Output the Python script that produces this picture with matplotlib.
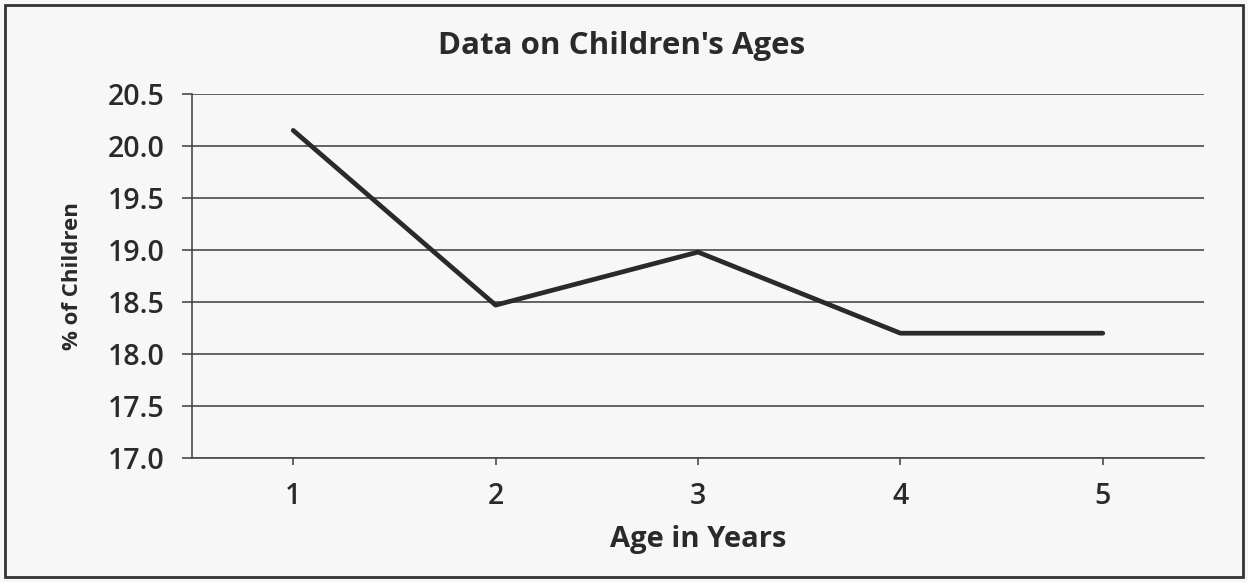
import numpy as np
import matplotlib
matplotlib.use('Agg')
from matplotlib import pyplot as plt
from matplotlib.patches import Rectangle

ages = [1, 2, 3, 4, 5]
pct_children = [20.15, 18.47, 18.98, 18.2, 18.2]
y_ticks = [17.0, 17.5, 18.0, 18.5, 19.0, 19.5, 20.0, 20.5]

plt.rcParams['font.family'] = ['Open Sans', 'DejaVu Sans']

W, H = 1248, 582
fig = plt.figure(figsize=(W/100, H/100), dpi=100, facecolor='#f7f7f7')
left, right, top, bottom = 192, 1204, 94, 458
ax = fig.add_axes([left/W, 1 - bottom/H, (right-left)/W, (bottom-top)/H])
ax.set_facecolor('#f7f7f7')

ax.plot(ages, pct_children, color='#2a2a2a', lw=3.4, solid_capstyle='round', zorder=3)

ax.set_xlim(0.5, 5.5)
ax.set_ylim(17.0, 20.5)
ax.set_xticks(ages)
ax.set_yticks(y_ticks)
ax.set_yticklabels(['%.1f' % v for v in y_ticks])
ax.yaxis.grid(True, color='#4a4a4a', lw=1.2)
ax.set_axisbelow(True)

for s in ['top', 'right']:
    ax.spines[s].set_visible(False)
for s in ['left', 'bottom']:
    ax.spines[s].set_color('#4a4a4a')
    ax.spines[s].set_linewidth(1.2)

ax.tick_params(axis='y', length=7, width=1.2, color='#4a4a4a', labelsize=20.5,
               labelcolor='#2a2a2a', pad=13)
ax.tick_params(axis='x', length=5, width=1.2, color='#4a4a4a', labelsize=20.5,
               labelcolor='#2a2a2a', pad=12)
for lab in ax.get_yticklabels() + ax.get_xticklabels():
    lab.set_fontweight('semibold')

fig.text(622/W, 1 - 46/H, "Data on Children's Ages", fontsize=22.5, fontweight='bold',
         color='#2a2a2a', ha='center', va='center')
ax.set_xlabel('Age in Years', fontsize=21, fontweight='bold', color='#2a2a2a', va='center')
ax.xaxis.set_label_coords(0.5, -(540-bottom)/(bottom-top))
ax.set_ylabel('% of Children', fontsize=16, fontweight='bold', color='#2a2a2a', va='center')
ax.yaxis.set_label_coords((72-left)/(right-left), 0.5)

fig.patches.append(Rectangle((5/W, 5/H), 1 - 10/W, 1 - 10/H, transform=fig.transFigure,
                             fill=False, edgecolor='#333333', lw=2))

plt.savefig('out.png', dpi=100, facecolor=fig.get_facecolor())
